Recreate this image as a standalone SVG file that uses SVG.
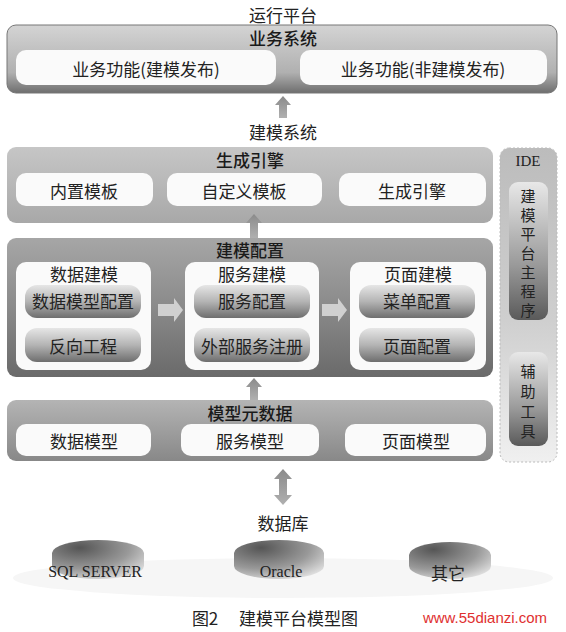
<svg xmlns="http://www.w3.org/2000/svg" width="566" height="632" viewBox="0 0 566 632">
<defs>
<linearGradient id="gTop" x1="0" y1="0" x2="0" y2="1">
<stop offset="0" stop-color="#d4d4d4"/><stop offset="0.7" stop-color="#b0b0b0"/><stop offset="1" stop-color="#6e6e6e"/>
</linearGradient>
<linearGradient id="gGen" x1="0" y1="0" x2="0" y2="1">
<stop offset="0" stop-color="#c6c6c6"/><stop offset="1" stop-color="#a8a8a8"/>
</linearGradient>
<linearGradient id="gCfg" x1="0" y1="0" x2="0" y2="1">
<stop offset="0" stop-color="#a6a6a6"/><stop offset="0.5" stop-color="#8a8a8a"/><stop offset="1" stop-color="#6a6a6a"/>
</linearGradient>
<linearGradient id="gMeta" x1="0" y1="0" x2="0" y2="1">
<stop offset="0" stop-color="#b4b4b4"/><stop offset="1" stop-color="#888"/>
</linearGradient>
<linearGradient id="gBtn" x1="0" y1="0" x2="0" y2="1">
<stop offset="0" stop-color="#e6e6e6"/><stop offset="0.5" stop-color="#b4b4b4"/><stop offset="1" stop-color="#6e6e6e"/>
</linearGradient>
<linearGradient id="gIde" x1="0" y1="0" x2="0" y2="1">
<stop offset="0" stop-color="#bcbcbc"/><stop offset="0.55" stop-color="#cfcfcf"/><stop offset="1" stop-color="#f0f0f0"/>
</linearGradient>
<linearGradient id="gVert" x1="0" y1="0" x2="0" y2="1">
<stop offset="0" stop-color="#e8e8e8"/><stop offset="0.6" stop-color="#9a9a9a"/><stop offset="1" stop-color="#5a5a5a"/>
</linearGradient>
<radialGradient id="gCyl" cx="0.3" cy="0.2" r="0.9">
<stop offset="0" stop-color="#555"/><stop offset="0.6" stop-color="#999"/><stop offset="1" stop-color="#e0e0e0"/>
</radialGradient>
<linearGradient id="gArrow" x1="0" y1="0" x2="0" y2="1">
<stop offset="0" stop-color="#8a8a8a"/><stop offset="1" stop-color="#b0b0b0"/>
</linearGradient>
</defs>
<style>
text{font-family:"Noto Sans CJK SC","Liberation Sans",sans-serif;fill:#222;text-anchor:middle;dominant-baseline:central}
.t{font-size:17px}
.h{font-size:17px;font-weight:500;fill:#1a1a1a}
.sub{font-size:17px}
.v{font-size:15px}
.lab{font-size:17px}
.serif{font-family:"Liberation Serif","Noto Sans CJK SC",serif}
.white{fill:#fafafa}
.btn{fill:url(#gBtn)}
.arrow{fill:url(#gArrow)}
.sm{fill:#d0d0d0}
</style>
<rect width="566" height="632" fill="#ffffff"/>

<g id="run-platform">
<text class="lab" x="283" y="14">运行平台</text>
<rect x="7" y="25" width="550" height="68" rx="9" fill="url(#gTop)" stroke="#777" stroke-width="1"/>
<text class="h" x="283" y="37">业务系统</text>
<g id="biz-func-model"><rect class="white" x="16" y="50" width="260" height="35" rx="10"/><text class="t" x="146" y="68">业务功能(建模发布)</text></g>
<g id="biz-func-nonmodel"><rect class="white" x="300" y="50" width="247" height="35" rx="10"/><text class="t" x="423" y="68">业务功能(非建模发布)</text></g>
</g>

<text class="lab" x="283" y="131">建模系统</text>

<g id="gen-engine">
<rect x="7" y="147" width="486" height="76" rx="9" fill="url(#gGen)"/>
<text class="h" x="250" y="159">生成引擎</text>
<g id="builtin-tpl"><rect class="white" x="16" y="173" width="137" height="33" rx="10"/><text class="t" x="84" y="190">内置模板</text></g>
<g id="custom-tpl"><rect class="white" x="167" y="173" width="155" height="33" rx="10"/><text class="t" x="244" y="190">自定义模板</text></g>
<g id="gen-engine-item"><rect class="white" x="339" y="173" width="147" height="33" rx="10"/><text class="t" x="412" y="190">生成引擎</text></g>
</g>

<g id="model-config">
<rect x="7" y="238" width="486" height="139" rx="9" fill="url(#gCfg)"/>
<text class="h" x="250" y="249">建模配置</text>
<g id="data-modeling">
<rect class="white" x="16" y="262" width="135" height="108" rx="10"/>
<text class="sub" x="84" y="273">数据建模</text>
<rect class="btn" x="25" y="285" width="116" height="33" rx="12"/><text class="t" x="83" y="300">数据模型配置</text>
<rect class="btn" x="25" y="328" width="116" height="34" rx="12"/><text class="t" x="83" y="345">反向工程</text>
</g>
<g id="service-modeling">
<rect class="white" x="185" y="262" width="134" height="108" rx="10"/>
<text class="sub" x="252" y="273">服务建模</text>
<rect class="btn" x="194" y="285" width="116" height="33" rx="12"/><text class="t" x="252" y="300">服务配置</text>
<rect class="btn" x="194" y="328" width="116" height="34" rx="12"/><text class="t" x="252" y="345">外部服务注册</text>
</g>
<g id="page-modeling">
<rect class="white" x="350" y="262" width="136" height="108" rx="10"/>
<text class="sub" x="418" y="273">页面建模</text>
<rect class="btn" x="359" y="285" width="116" height="33" rx="12"/><text class="t" x="417" y="300">菜单配置</text>
<rect class="btn" x="359" y="328" width="116" height="34" rx="12"/><text class="t" x="417" y="345">页面配置</text>
</g>
</g>

<g id="meta-data">
<rect x="7" y="400" width="486" height="61" rx="9" fill="url(#gMeta)"/>
<text class="h" x="250" y="412">模型元数据</text>
<g id="data-model"><rect class="white" x="16" y="424" width="135" height="32" rx="10"/><text class="t" x="84" y="440">数据模型</text></g>
<g id="service-model"><rect class="white" x="181" y="424" width="138" height="32" rx="10"/><text class="t" x="250" y="440">服务模型</text></g>
<g id="page-model"><rect class="white" x="345" y="424" width="141" height="32" rx="10"/><text class="t" x="416" y="440">页面模型</text></g>
</g>

<g id="ide">
<rect x="500" y="148" width="57" height="314" rx="9" fill="url(#gIde)" stroke="#bbb" stroke-width="1" stroke-dasharray="2 2"/>
<text class="serif" x="528" y="161" style="font-size:15px">IDE</text>
<g id="ide-main">
<rect x="509" y="182" width="39" height="138" rx="9" fill="url(#gVert)"/>
<text class="v" x="528" y="195">建</text><text class="v" x="528" y="214">模</text><text class="v" x="528" y="233">平</text><text class="v" x="528" y="252">台</text><text class="v" x="528" y="271">主</text><text class="v" x="528" y="290">程</text><text class="v" x="528" y="309">序</text>
</g>
<g id="ide-tools">
<rect x="509" y="352" width="39" height="94" rx="9" fill="url(#gVert)"/>
<text class="v" x="528" y="370">辅</text><text class="v" x="528" y="390">助</text><text class="v" x="528" y="410">工</text><text class="v" x="528" y="430">具</text>
</g>
</g>

<g id="database">
<text class="lab" x="283" y="522">数据库</text>
<ellipse cx="283" cy="578" rx="270" ry="20" fill="#f6f6f6"/>
<g id="db-sql"><path d="M52 553 A46 13 0 0 1 144 553 L144 566 A46 13 0 0 1 52 566 Z" fill="url(#gCyl)"/><text class="serif" x="95" y="571" style="font-size:16px">SQL SERVER</text></g>
<g id="db-oracle"><path d="M234 553 A45 13 0 0 1 324 553 L324 566 A45 13 0 0 1 234 566 Z" fill="url(#gCyl)"/><text class="serif" x="281" y="571" style="font-size:16px">Oracle</text></g>
<g id="db-other"><path d="M409 555 A41 13 0 0 1 491 555 L491 566 A41 13 0 0 1 409 566 Z" fill="url(#gCyl)"/><text class="t" x="448" y="572">其它</text></g>
</g>

<g id="connectors">
<path class="arrow" d="M283 96 L291 105 L287 105 L287 118 L279 118 L279 105 L275 105 Z"/>
<path class="arrow" d="M254 214 L262 223 L258 223 L258 238 L250 238 L250 223 L246 223 Z"/>
<path class="arrow" d="M254 378 L262 387 L258 387 L258 400 L250 400 L250 387 L246 387 Z"/>
<path class="arrow" d="M283 469 L292 479 L287 479 L287 495 L292 495 L283 505 L274 495 L279 495 L279 479 L274 479 Z"/>
<path class="sm" d="M158 304 L174 304 L174 298 L183 310 L174 322 L174 316 L158 316 Z"/>
<path class="sm" d="M322 304 L338 304 L338 298 L347 310 L338 322 L338 316 L322 316 Z"/>
</g>

<g id="caption">
<text x="275" y="617" style="font-size:17px;font-family:'Noto Sans CJK SC',serif">图2　 建模平台模型图</text>
<text x="485" y="617" style="font-size:15px;fill:#e03030;font-family:'Liberation Sans',sans-serif">www.55dianzi.com</text>
</g>
</svg>
